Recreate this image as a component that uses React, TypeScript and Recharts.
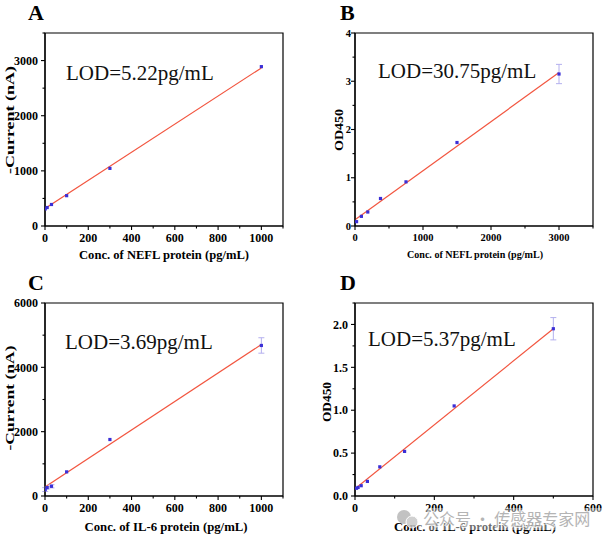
import React from "react";
import { ComposedChart, XAxis, YAxis, Line, Scatter, ErrorBar, ReferenceArea } from "recharts";

// A: NEFL, electrochemical
const neflConc = [1, 10, 30, 100, 300, 1000];
const neflCurrent = [310, 335, 390, 550, 1045, 2890];
const neflCurrentErr = [0, 0, 0, 0, 0, 0];
const neflCurrentFitX = [0, 1000];
const neflCurrentFitY = [317, 2867];

// B: NEFL, ELISA
const neflElisaConc = [23, 94, 188, 375, 750, 1500, 3000];
const neflOd = [0.09, 0.2, 0.29, 0.57, 0.915, 1.73, 3.15];
const neflOdErr = [0, 0, 0, 0, 0, 0, 0.2];
const neflOdFitX = [0, 3000];
const neflOdFitY = [0.13, 3.18];

// C: IL-6, electrochemical
const il6Conc = [1, 10, 30, 100, 300, 1000];
const il6Current = [200, 260, 302, 750, 1756, 4680];
const il6CurrentErr = [60, 40, 50, 0, 0, 240];
const il6CurrentFitX = [0, 1000];
const il6CurrentFitY = [280, 4710];

// D: IL-6, ELISA
const il6ElisaConc = [3.9, 7.8, 15.6, 31.25, 62.5, 125, 250, 500];
const il6Od = [0.09, 0.1, 0.12, 0.17, 0.34, 0.52, 1.05, 1.95];
const il6OdErr = [0, 0, 0, 0, 0, 0, 0, 0.13];
const il6OdFitX = [0, 500];
const il6OdFitY = [0.085, 1.95];

const SERIF = '"Liberation Serif", "Times New Roman", serif';

const pts = (xs: number[], ys: number[], es: number[]) => xs.map((x, i) => ({ x, y: ys[i], err: es[i] }));
const line = (xs: number[], ys: number[]) => xs.map((x, i) => ({ x, y: ys[i] }));

const Square = (props: any) => (
  <rect x={props.cx - 1.6} y={props.cy - 1.6} width={3.2} height={3.2} fill="#3a2fd6" />
);

const FrameTick = (props: any) => {
  const { x = 0, y = 0, payload, side, step, fmt, fontSize, gap } = props;
  const v = payload ? payload.value : 0;
  const major = Math.abs(v / step - Math.round(v / step)) < 1e-6;
  const len = major ? 4 : 2.5;
  if (side === "bottom") {
    return (
      <g>
        <line x1={x} x2={x} y1={y} y2={y + len} stroke="#000" strokeWidth={1.1} />
        {major && (
          <text x={x} y={y + gap} textAnchor="middle" fontFamily={SERIF} fontWeight="bold" fontSize={fontSize} fill="#000">
            {fmt(v)}
          </text>
        )}
      </g>
    );
  }
  return (
    <g>
      <line x1={x} x2={x - len} y1={y} y2={y} stroke="#000" strokeWidth={1.1} />
      {major && (
        <text x={x - gap} y={y} dy="0.35em" textAnchor="end" fontFamily={SERIF} fontWeight="bold" fontSize={fontSize} fill="#000">
          {fmt(v)}
        </text>
      )}
    </g>
  );
};

const Panel = (p: any) => (
  <div style={{ position: "absolute", left: p.left, top: p.top, width: p.width, height: p.height }}>
    <ComposedChart width={p.width} height={p.height} margin={{ top: 33, right: p.right, left: 0, bottom: 0 }}>
      <XAxis
        dataKey="x"
        type="number"
        domain={p.xDomain}
        ticks={p.xTicks}
        interval={0}
        allowDataOverflow
        height={p.xHeight}
        tickSize={0}
        tickMargin={0}
        tickLine={false}
        axisLine={{ stroke: "#000", strokeWidth: 1.2 }}
        tick={(t: any) => <FrameTick {...t} side="bottom" step={p.xStep} fmt={p.xFmt} fontSize={p.tickFont} gap={p.xGap} />}
      />
      <YAxis
        dataKey="y"
        type="number"
        domain={p.yDomain}
        ticks={p.yTicks}
        interval={0}
        allowDataOverflow
        width={p.yWidth}
        tickSize={0}
        tickMargin={0}
        tickLine={false}
        axisLine={{ stroke: "#000", strokeWidth: 1.2 }}
        tick={(t: any) => <FrameTick {...t} side="left" step={p.yStep} fmt={p.yFmt} fontSize={p.tickFont} gap={p.yGap} />}
      />
      <ReferenceArea
        x1={p.xDomain[0]}
        x2={p.xDomain[1]}
        y1={p.yDomain[0]}
        y2={p.yDomain[1]}
        fill="none"
        stroke="#000"
        strokeWidth={1.2}
        ifOverflow="visible"
      />
      <Line data={p.fit} dataKey="y" type="linear" stroke="#f2553f" strokeWidth={1.2} dot={false} isAnimationActive={false} />
      <Scatter data={p.points} dataKey="y" shape={<Square />} isAnimationActive={false}>
        <ErrorBar dataKey="err" direction="y" width={3} stroke="#b4b0ee" strokeWidth={1} />
      </Scatter>
    </ComposedChart>
    <svg width={p.width} height={p.height} style={{ position: "absolute", left: 0, top: 0, pointerEvents: "none" }}>
      <text x={p.letterX} y={20} fontFamily={SERIF} fontWeight="bold" fontSize={22} fill="#000">
        {p.letter}
      </text>
      <text x={p.lodX} y={p.lodY} fontFamily={SERIF} fontSize={21} fill="#111">
        {p.lod}
      </text>
      <text
        x={p.yTitleX}
        y={p.yTitleY}
        transform={`rotate(-90, ${p.yTitleX}, ${p.yTitleY})`}
        textAnchor="middle"
        fontFamily={SERIF}
        fontWeight="bold"
        fontSize={p.yTitleFont}
        textLength={p.yTitleLen}
        lengthAdjust="spacingAndGlyphs"
        fill="#000"
      >
        {p.yTitle}
      </text>
      <text
        x={p.xTitleX}
        y={p.xTitleY}
        textAnchor="middle"
        fontFamily={SERIF}
        fontWeight="bold"
        fontSize={p.xTitleFont}
        textLength={p.xTitleLen}
        lengthAdjust="spacingAndGlyphs"
        fill="#000"
      >
        {p.xTitle}
      </text>
      {p.children}
    </svg>
  </div>
);

const int = (v: number) => String(v);
const dec = (v: number) => v.toFixed(1);
const range = (a: number, b: number, s: number) => {
  const out: number[] = [];
  for (let i = 0; a + i * s <= b + 1e-9; i++) out.push(+(a + i * s).toFixed(4));
  return out;
};

export default function App() {
  return (
    <div style={{ position: "absolute", left: 0, top: 0, width: 609, height: 539, background: "#fff" }}>
      <Panel
        left={0} top={0} width={300} height={270} right={17} xHeight={44} yWidth={45}
        xDomain={[0, 1100]} xTicks={range(0, 1100, 100)} xStep={200} xFmt={int} xGap={15.5}
        yDomain={[0, 3500]} yTicks={range(0, 3500, 500)} yStep={1000} yFmt={int} yGap={7}
        tickFont={12}
        points={pts(neflConc, neflCurrent, neflCurrentErr)} fit={line(neflCurrentFitX, neflCurrentFitY)}
        letter="A" letterX={28} lod="LOD=5.22pg/mL" lodX={66} lodY={80}
        yTitle="-Current (nA)" yTitleX={14} yTitleY={120} yTitleFont={13} yTitleLen={108}
        xTitle="Conc. of NEFL protein (pg/mL)" xTitleX={164} xTitleY={259} xTitleFont={13} xTitleLen={170}
      />
      <Panel
        left={300} top={0} width={309} height={270} right={16} xHeight={44} yWidth={55}
        xDomain={[0, 3500]} xTicks={range(0, 3500, 500)} xStep={1000} xFmt={int} xGap={14.5}
        yDomain={[0, 4]} yTicks={range(0, 4, 0.5)} yStep={1} yFmt={int} yGap={4}
        tickFont={10.5}
        points={pts(neflElisaConc, neflOd, neflOdErr)} fit={line(neflOdFitX, neflOdFitY)}
        letter="B" letterX={40} lod="LOD=30.75pg/mL" lodX={78} lodY={78}
        yTitle="OD450" yTitleX={43} yTitleY={130} yTitleFont={13} yTitleLen={42}
        xTitle="Conc. of NEFL protein (pg/mL)" xTitleX={175} xTitleY={258} xTitleFont={10.5} xTitleLen={136}
      />
      <Panel
        left={0} top={270} width={300} height={269} right={17} xHeight={43} yWidth={45}
        xDomain={[0, 1100]} xTicks={range(0, 1100, 100)} xStep={200} xFmt={int} xGap={15.5}
        yDomain={[0, 6000]} yTicks={range(0, 6000, 1000)} yStep={2000} yFmt={int} yGap={7}
        tickFont={12}
        points={pts(il6Conc, il6Current, il6CurrentErr)} fit={line(il6CurrentFitX, il6CurrentFitY)}
        letter="C" letterX={28} lod="LOD=3.69pg/mL" lodX={65} lodY={79}
        yTitle="-Current (nA)" yTitleX={14} yTitleY={128} yTitleFont={13} yTitleLen={105}
        xTitle="Conc. of IL-6 protein (pg/mL)" xTitleX={166} xTitleY={261} xTitleFont={13} xTitleLen={163}
      />
      <Panel
        left={300} top={270} width={309} height={269} right={16} xHeight={43} yWidth={55}
        xDomain={[0, 600]} xTicks={range(0, 600, 100)} xStep={200} xFmt={int} xGap={15.5}
        yDomain={[0, 2.25]} yTicks={range(0, 2.25, 0.25)} yStep={0.5} yFmt={dec} yGap={7}
        tickFont={12}
        points={pts(il6ElisaConc, il6Od, il6OdErr)} fit={line(il6OdFitX, il6OdFitY)}
        letter="D" letterX={40} lod="LOD=5.37pg/mL" lodX={68} lodY={76}
        yTitle="OD450" yTitleX={31} yTitleY={132} yTitleFont={13} yTitleLen={40}
        xTitle="Conc. of IL-6 protein (pg/mL)" xTitleX={175} xTitleY={261} xTitleFont={13} xTitleLen={162}
      >
        <g opacity={0.85}>
          <rect x={118} y={238} width={185} height={22} fill="#fff" opacity={0.5} />
          <circle cx={104} cy={247} r={7} fill="#b8b8b8" />
          <circle cx={112} cy={252} r={6} fill="#c8c8c8" stroke="#fff" strokeWidth={1} />
          <text
            x={123}
            y={255}
            fontFamily='"Noto Sans CJK SC", sans-serif'
            fontSize={16}
            fill="#a8a8a8"
            stroke="#fff"
            strokeWidth={2}
            paintOrder="stroke"
          >
            公众号 · 传感器专家网
          </text>
        </g>
      </Panel>
    </div>
  );
}
